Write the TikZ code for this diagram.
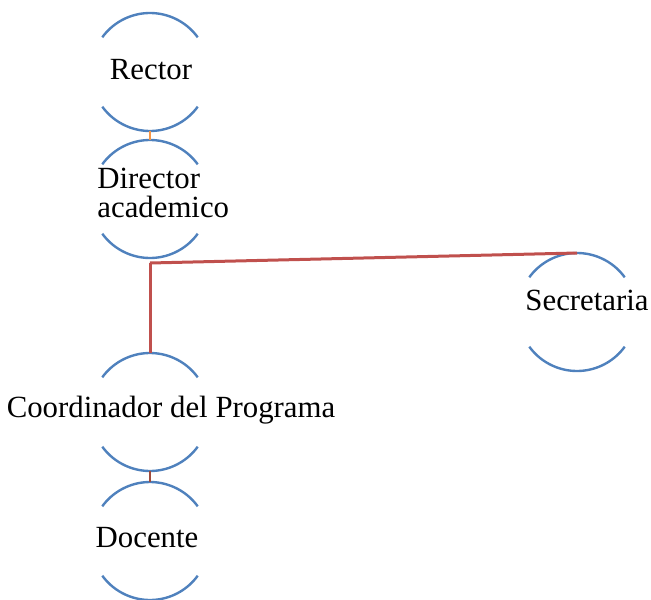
\documentclass[tikz,border=0pt]{standalone}
\usepackage{fontspec}
\setmainfont{Liberation Serif}
\usetikzlibrary{arrows.meta}

\definecolor{arcblue}{RGB}{79,129,189}
\definecolor{linered}{RGB}{192,80,77}
\definecolor{lineorange}{RGB}{247,150,70}
\definecolor{linebrown}{RGB}{160,75,60}

\begin{document}
\begin{tikzpicture}[x=0.5pt,y=-0.5pt,
    ring/.style={circle,minimum size=59pt,inner sep=0pt,outer sep=0pt},
    label/.style={inner sep=0pt,font=\fontsize{15.4}{14.5}\selectfont},
    arcline/.style={arcblue,line width=1.2pt},
    link/.style={linered,line width=1.5pt}]

    % fix the page size
    \useasboundingbox (0,0) rectangle (651,599);

    % the units (only their circles)
    \node[ring] (rector) at (150,72) {};
    \node[ring] (director) at (150,199) {};
    \node[ring] (secretaria) at (577,312) {};
    \node[ring] (coordinador) at (150,412) {};
    \node[ring] (docente) at (150,541) {};

    % draw the arcs above and below each unit
    \foreach \n in {rector,director,secretaria,coordinador,docente}
        \draw[arcline] (\n.36) arc[start angle=36,end angle=144,radius=29.5pt]
                       (\n.216) arc[start angle=216,end angle=324,radius=29.5pt];

    % texts
    \node[label,anchor=base] (rector-t) at (151,80) {Rector};
    \node[label,anchor=north west,align=left] (director-t) at (97,168) {Director\\academico};
    \node[label,anchor=base] (secretaria-t) at (587,310) {Secretaria};
    \node[label,anchor=base] (coordinador-t) at (171,417) {Coordinador del Programa};
    \node[label,anchor=base] (docente-t) at (147,547) {Docente};

    % connectors
    \draw[lineorange,line width=1.25pt] (rector.south) -- (director.north);
    \draw[link] ([yshift=-2.5pt]director.south) -- (coordinador.north);
    \draw[link] ([yshift=-2.5pt]director.south) -- (secretaria.north);
    \draw[linebrown,line width=1.25pt] (coordinador.south) -- (docente.north);

\end{tikzpicture}
\end{document}
